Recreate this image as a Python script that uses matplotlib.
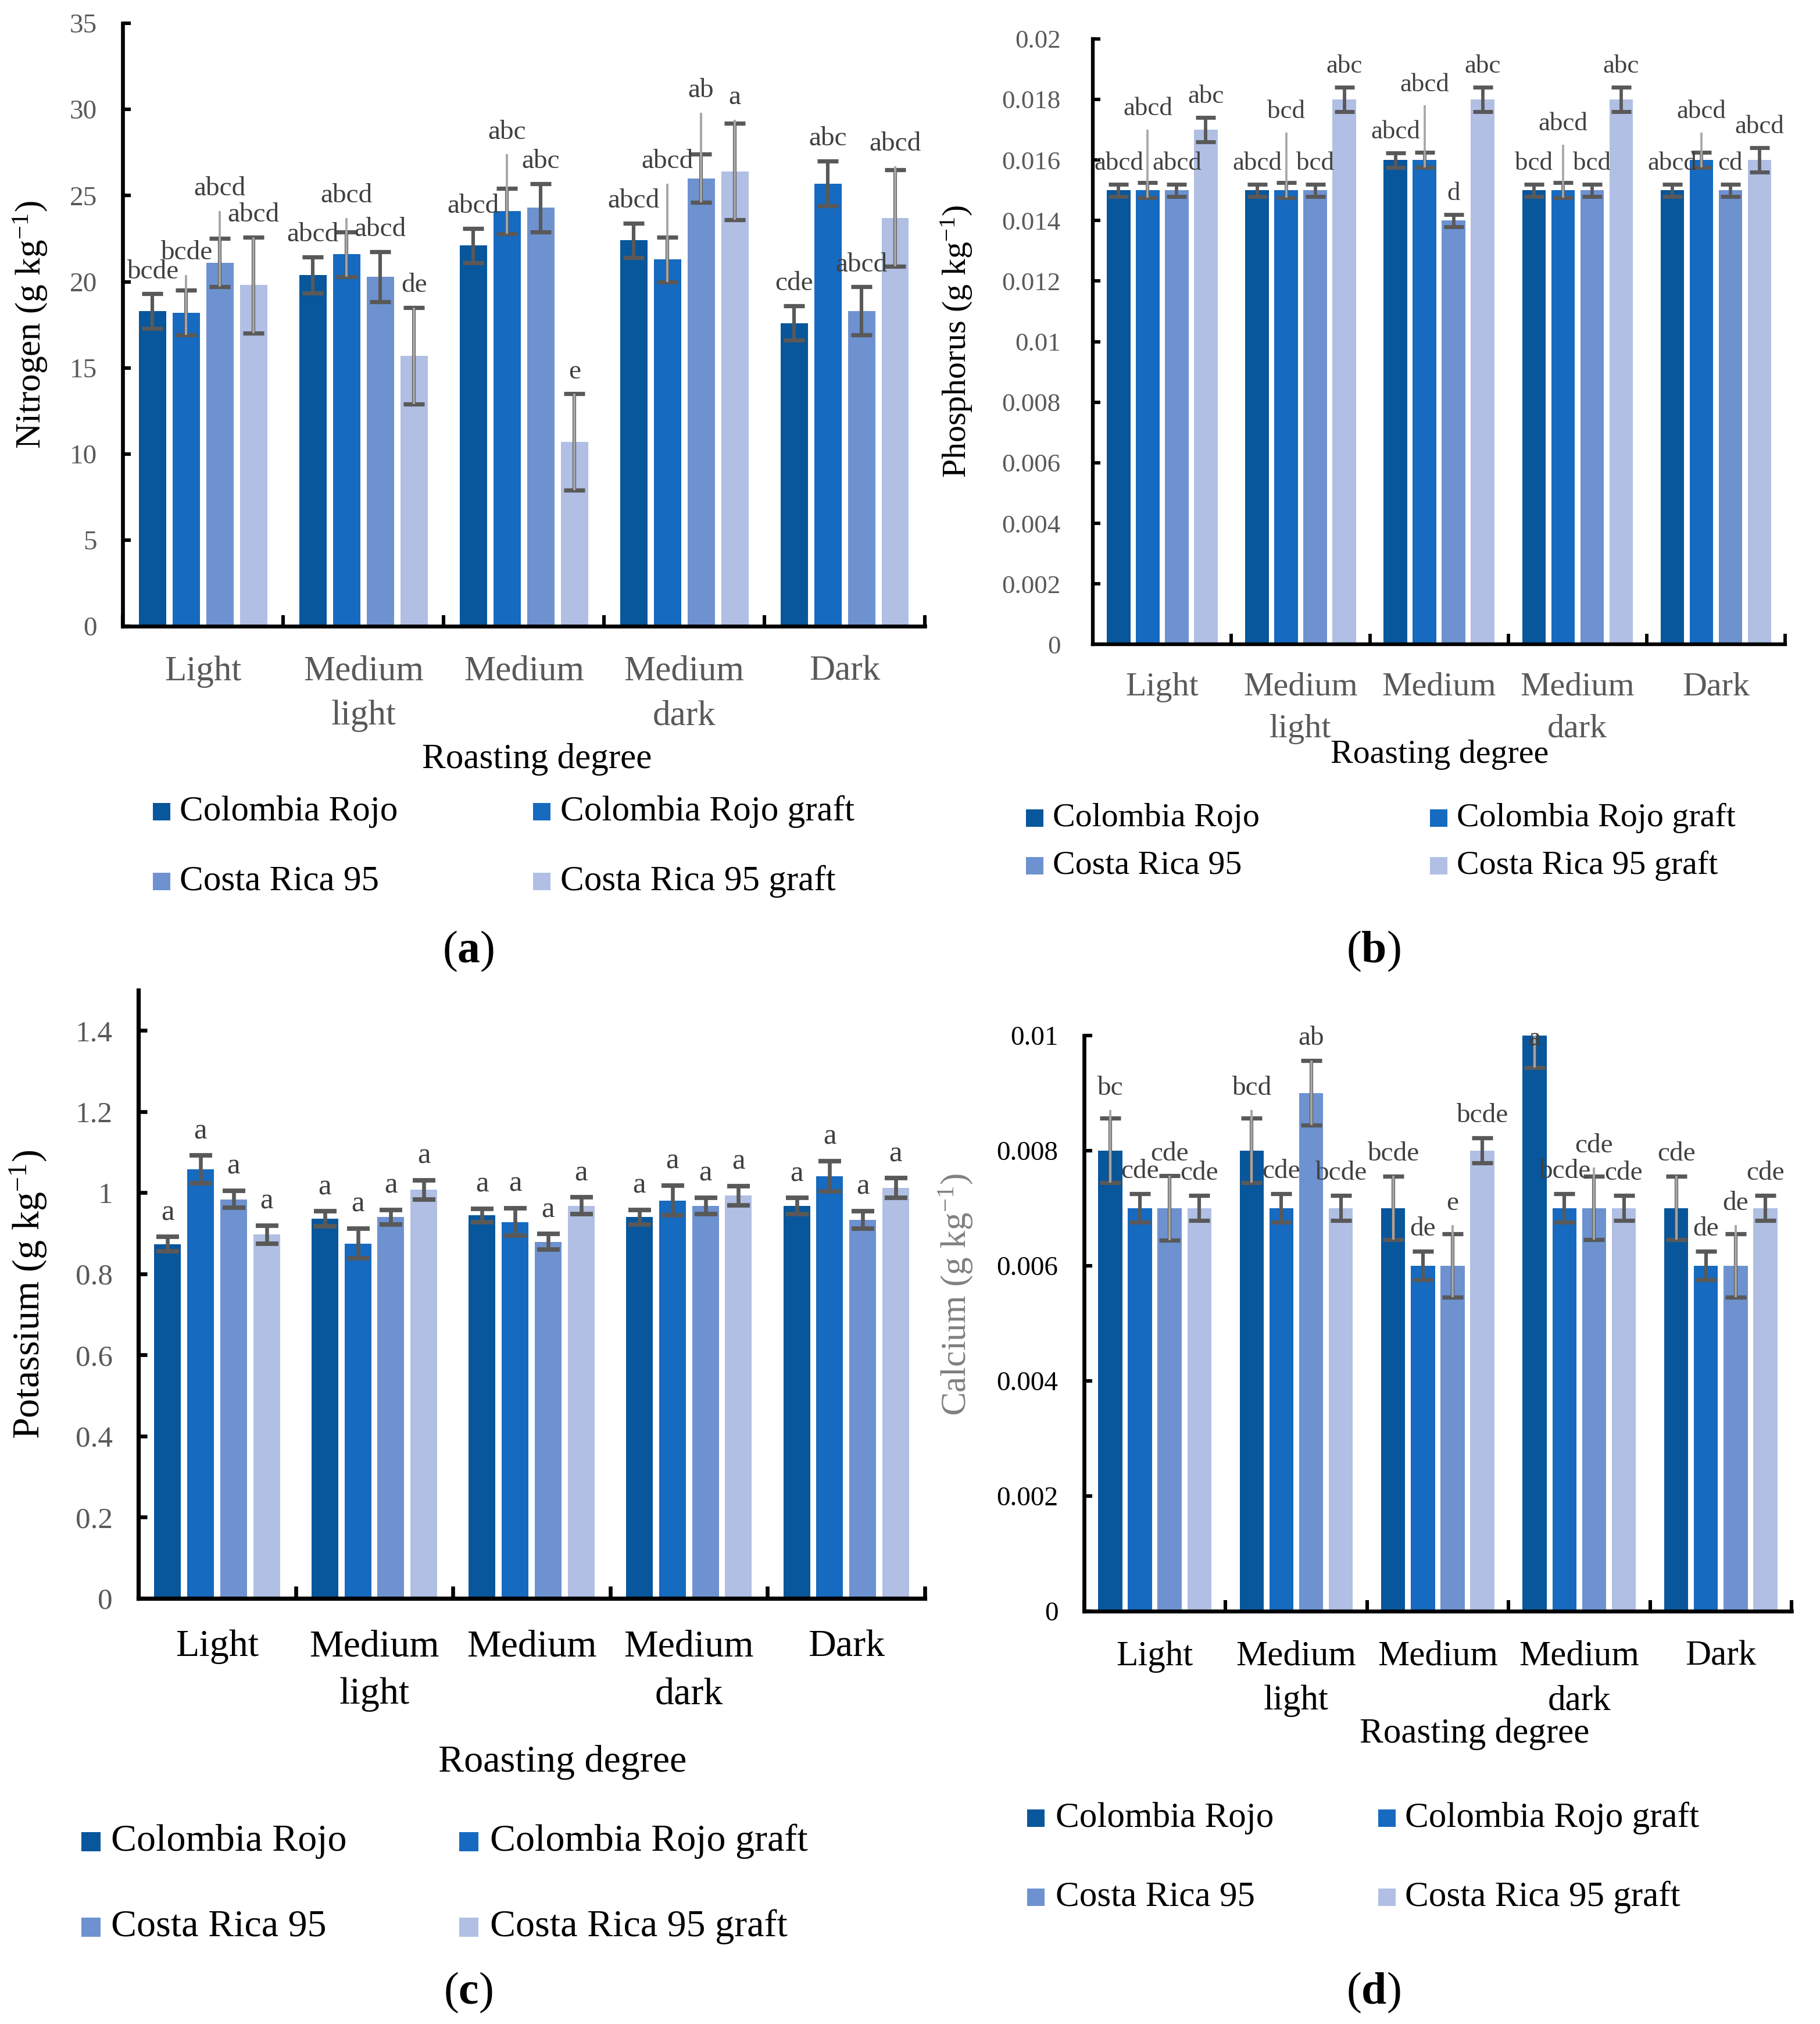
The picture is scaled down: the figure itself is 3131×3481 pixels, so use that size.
"""Four-panel bar chart: N, P, K, Ca content of roasted coffee by roasting degree."""

import matplotlib

matplotlib.use("Agg")
import matplotlib.pyplot as plt
from matplotlib.lines import Line2D
from matplotlib.ticker import FixedLocator, FuncFormatter, NullFormatter

plt.rcParams["font.family"] = ["Liberation Serif", "DejaVu Serif"]
plt.rcParams["mathtext.fontset"] = "custom"
plt.rcParams["mathtext.rm"] = "Liberation Serif"
plt.rcParams["mathtext.it"] = "Liberation Serif:italic"
plt.rcParams["mathtext.bf"] = "Liberation Serif:bold"

ROASTS = ["Light", "Medium\nlight", "Medium", "Medium\ndark", "Dark"]
SERIES = ["Colombia Rojo", "Colombia Rojo graft", "Costa Rica 95", "Costa Rica 95 graft"]
COLORS = ["#08569B", "#166AC0", "#6E92D0", "#B0BFE3"]

# Nitrogen (g/kg), rows = series, cols = roast degree
N_VALS = [
    [18.3, 20.4, 22.1, 22.4, 17.6],
    [18.2, 21.6, 24.1, 21.3, 25.7],
    [21.1, 20.3, 24.3, 26.0, 18.3],
    [19.8, 15.7, 10.7, 26.4, 23.7],
]
N_ERR = [
    [1.0, 1.05, 1.0, 1.0, 1.0],
    [1.3, 1.3, 1.33, 1.3, 1.3],
    [1.4, 1.45, 1.4, 1.4, 1.4],
    [2.8, 2.8, 2.8, 2.8, 2.8],
]
N_GRAY = [
    [0, 0, 0, 0, 0],
    [2.2, 2.1, 3.3, 4.4, 0],
    [3.0, 0, 0, 3.8, 0],
    [2.8, 2.8, 2.8, 3.0, 3.0],
]
N_LABELS = [
    ["bcde", "abcd", "abcd", "abcd", "cde"],
    ["bcde", "abcd", "abc", "abcd", "abc"],
    ["abcd", "abcd", "abc", "ab", "abcd"],
    ["abcd", "de", "e", "a", "abcd"],
]

# Phosphorus
P_VALS = [
    [0.015, 0.015, 0.016, 0.015, 0.015],
    [0.015, 0.015, 0.016, 0.015, 0.016],
    [0.015, 0.015, 0.014, 0.015, 0.015],
    [0.017, 0.018, 0.018, 0.018, 0.016],
]
P_ERR = [
    [0.0002, 0.0002, 0.00024, 0.0002, 0.0002],
    [0.00025, 0.00025, 0.00025, 0.00025, 0.00025],
    [0.0002, 0.0002, 0.0002, 0.0002, 0.0002],
    [0.0004, 0.0004, 0.0004, 0.0004, 0.0004],
]
P_GRAY = [
    [0, 0, 0, 0, 0],
    [0.002, 0.0019, 0.0018, 0.0015, 0.0009],
    [0, 0, 0, 0, 0],
    [0, 0, 0, 0, 0],
]
P_LABELS = [
    ["abcd", "abcd", "abcd", "bcd", "abcd"],
    ["abcd", "bcd", "abcd", "abcd", "abcd"],
    ["abcd", "bcd", "d", "bcd", "cd"],
    ["abc", "abc", "abc", "abc", "abcd"],
]

# Potassium
K_VALS = [
    [0.873, 0.936, 0.944, 0.940, 0.967],
    [1.058, 0.875, 0.928, 0.981, 1.041],
    [0.984, 0.940, 0.879, 0.968, 0.933],
    [0.897, 1.007, 0.968, 0.993, 1.012],
]
K_ERR = [
    [0.018, 0.018, 0.017, 0.018, 0.020],
    [0.034, 0.037, 0.034, 0.037, 0.037],
    [0.021, 0.018, 0.019, 0.020, 0.022],
    [0.022, 0.024, 0.021, 0.024, 0.024],
]
K_GRAY = [[0] * 5 for _ in range(4)]
K_LABELS = [["a"] * 5 for _ in range(4)]

# Calcium
CA_VALS = [
    [0.008, 0.008, 0.007, 0.010, 0.007],
    [0.007, 0.007, 0.006, 0.007, 0.006],
    [0.007, 0.009, 0.006, 0.007, 0.006],
    [0.007, 0.007, 0.008, 0.007, 0.007],
]
CA_ERR = [
    [0.00056, 0.00056, 0.00055, 0.00056, 0.00055],
    [0.00025, 0.00025, 0.00025, 0.00025, 0.00025],
    [0.00056, 0.00056, 0.00055, 0.00055, 0.00055],
    [0.00022, 0.00022, 0.00022, 0.00022, 0.00022],
]
CA_GRAY = [
    [0.0007, 0.0007, 0.00056, 0.00056, 0.00056],
    [0, 0, 0, 0, 0],
    [0.00056, 0.00056, 0.0007, 0.0007, 0.0007],
    [0, 0, 0, 0, 0],
]
CA_LABELS = [
    ["bc", "bcd", "bcde", "a", "cde"],
    ["cde", "cde", "de", "bcde", "de"],
    ["cde", "ab", "e", "cde", "de"],
    ["cde", "bcde", "bcde", "cde", "cde"],
]

W_PX, H_PX = 3131, 3481
REF_W, REF_H = 1407, 1564  # layout measured on a 1/2.225 scaled view
DPI = 200

BAR_W = 0.17
STEP = 0.21
ERR_DARK = "#595959"
ERR_LIGHT = "#A6A6A6"


def fx(x):
    return x / REF_W


def fy(y):
    return 1 - y / REF_H


def axes_rect(x0, x1, y_top, y_bot):
    return [fx(x0), fy(y_bot), (x1 - x0) / REF_W, (y_bot - y_top) / REF_H]


def fmt_num(v, _pos):
    return f"{round(v, 6):g}"


def draw_panel(ax, vals, errs, grays, labels, ymax, ticks, ylabel, s,
               tick_color, cat_color, ylabel_color, ylabel_pos, ytick_pad):
    n_cat = len(ROASTS)
    for i, (v, e, g, lab) in enumerate(zip(vals, errs, grays, labels)):
        xs = [c + (i - 1.5) * STEP for c in range(n_cat)]
        ax.bar(xs, v, width=BAR_W, color=COLORS[i], zorder=2)
        ax.errorbar(xs, v, yerr=e, fmt="none", ecolor=ERR_DARK,
                    elinewidth=2.2 * s, capsize=6.5 * s, capthick=2.6 * s, zorder=3)
        for x, vv, ee, gg, tt in zip(xs, v, e, g, lab):
            if gg > 0:
                ax.vlines(x, vv - ee, vv + gg, color=ERR_LIGHT, lw=1.4 * s, zorder=4)
            top = vv + max(ee, gg)
            if top > ymax:
                ax.text(x, ymax * 0.994, tt, ha="center", va="center",
                        fontsize=17 * s, color="#404040", zorder=5)
            else:
                ax.annotate(tt, (x, top), xytext=(0, 6 * s), textcoords="offset points",
                            ha="center", va="bottom", fontsize=17 * s,
                            color="#404040", zorder=5)

    ax.set_xlim(-0.5, n_cat - 0.5)
    ax.set_ylim(0, ymax)
    ax.xaxis.set_major_locator(FixedLocator([c - 0.5 for c in range(n_cat + 1)]))
    ax.xaxis.set_major_formatter(NullFormatter())
    ax.set_xticks(range(n_cat), ROASTS, minor=True)
    ax.tick_params(axis="x", which="major", direction="in", length=7 * s,
                   width=2.2 * s, color="black")
    ax.tick_params(axis="x", which="minor", length=0, pad=18 * s,
                   labelsize=22 * s, labelcolor=cat_color)
    for t in ax.get_xticklabels(minor=True):
        t.set_linespacing(1.5)

    ax.yaxis.set_major_locator(FixedLocator(ticks))
    ax.yaxis.set_major_formatter(FuncFormatter(fmt_num))
    ax.tick_params(axis="y", direction="in", length=5 * s, width=2.2 * s,
                   labelsize=17 * s, labelcolor=tick_color, pad=ytick_pad)

    for side in ("top", "right"):
        ax.spines[side].set_visible(False)
    for side in ("left", "bottom"):
        ax.spines[side].set_linewidth(2.4 * s)
        ax.spines[side].set_color("black")

    ax.set_ylabel(ylabel, fontsize=22 * s, color=ylabel_color)
    ax.yaxis.set_label_coords(*ylabel_pos)


def draw_legend(fig, sq_x, text_x, rows, s):
    k = 0
    for y in rows:
        for sx, tx in zip(sq_x, text_x):
            fig.add_artist(Line2D([fx(sx)], [fy(y)], marker="s", markersize=11 * s,
                                  markerfacecolor=COLORS[k], markeredgewidth=0,
                                  linestyle="none", transform=fig.transFigure))
            fig.text(fx(tx), fy(y), SERIES[k], fontsize=22 * s, ha="left",
                     va="center", color="black")
            k += 1


def main():
    fig = plt.figure(figsize=(W_PX / DPI, H_PX / DPI), dpi=DPI)

    ax_a = fig.add_axes(axes_rect(95, 715, 18, 484))
    ax_b = fig.add_axes(axes_rect(845, 1380, 30, 498))
    ax_c = fig.add_axes(axes_rect(107, 715, 765, 1235))
    ax_d = fig.add_axes(axes_rect(838, 1385, 800, 1245))

    draw_panel(ax_a, N_VALS, N_ERR, N_GRAY, N_LABELS, 35, list(range(0, 36, 5)),
               "Nitrogen (g kg$^{-1}$)", 1.0, "#595959", "#595959", "black",
               (-0.092, 0.5), 16)
    draw_panel(ax_b, P_VALS, P_ERR, P_GRAY, P_LABELS, 0.02,
               [i * 0.002 for i in range(11)],
               "Phosphorus (g kg$^{-1}$)", 0.95, "#595959", "#595959", "black",
               (-0.172, 0.5), 20)
    draw_panel(ax_c, K_VALS, K_ERR, K_GRAY, K_LABELS, 1.5,
               [i * 0.2 for i in range(8)],
               "Potassium (g kg$^{-1}$)", 1.08, "#595959", "black", "black",
               (-0.115, 0.5), 16)
    draw_panel(ax_d, CA_VALS, CA_ERR, CA_GRAY, CA_LABELS, 0.01,
               [i * 0.002 for i in range(6)],
               "Calcium (g kg$^{-1}$)", 1.0, "black", "black", "#808080",
               (-0.155, 0.55), 16)

    # axis titles below the category labels
    for (x, y, s) in [(415, 587, 1.0), (1113, 583, 0.95), (435, 1362, 1.08), (1140, 1340, 1.0)]:
        fig.text(fx(x), fy(y), "Roasting degree", fontsize=22 * s, ha="center",
                 va="center", color="black")

    draw_legend(fig, (125, 419), (139, 433), (627, 681), 1.0)
    draw_legend(fig, (800, 1112), (814, 1126), (632, 669), 0.95)
    draw_legend(fig, (70, 362), (86, 379), (1423, 1489), 1.08)
    draw_legend(fig, (801, 1072), (816, 1086), (1405, 1466), 1.0)

    for (x, y, letter) in [(362, 735, "a"), (1062, 735, "b"), (362, 1540, "c"), (1062, 1540, "d")]:
        fig.text(fx(x), fy(y), "($\\mathbf{" + letter + "}$)", fontsize=28,
                 ha="center", va="center", color="black")

    fig.savefig("out.png", dpi=DPI)
    plt.close(fig)


if __name__ == "__main__":
    main()
